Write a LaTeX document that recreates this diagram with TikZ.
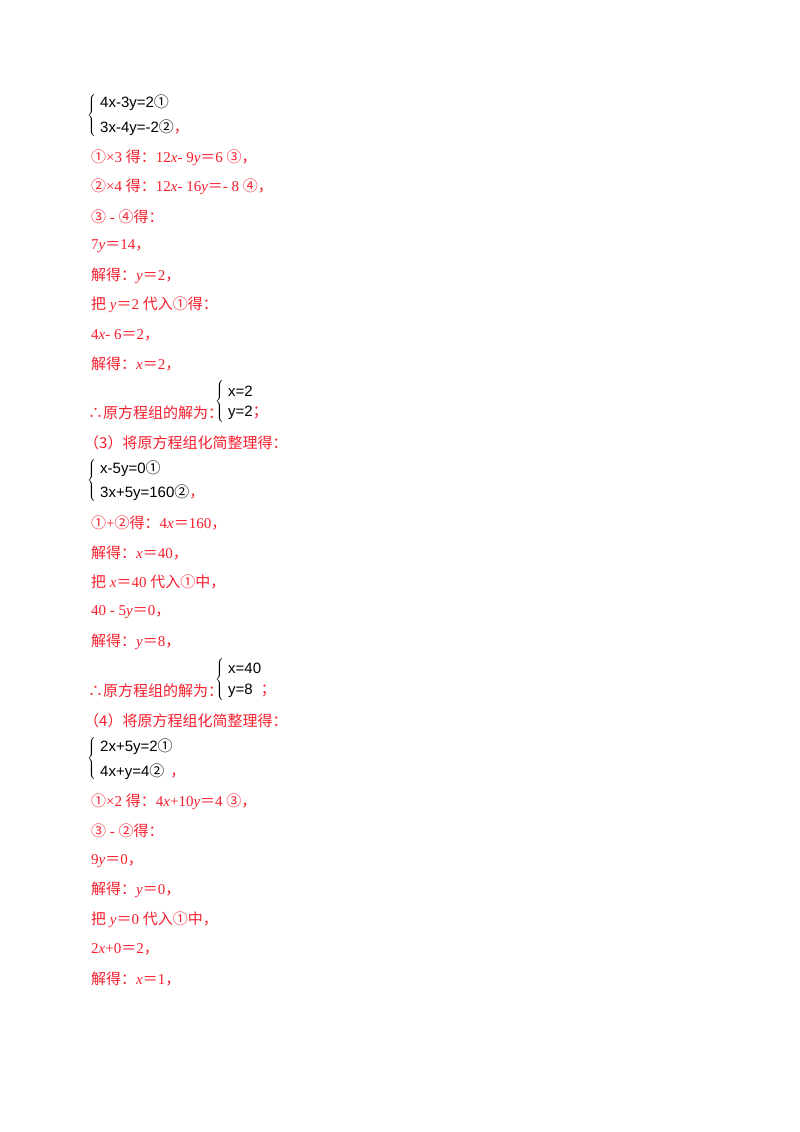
\documentclass[tikz,border=0pt]{standalone}
\usepackage{fontspec}
\setmainfont{Liberation Serif}
\newfontfamily\cjk{Noto Sans CJK SC}
\newfontfamily\eqf{Liberation Sans}
\definecolor{ans}{RGB}{245,30,45}
\newcommand{\zh}[1]{{\cjk #1}}
\newcommand{\cm}{\zh{，}}
\newcommand{\eqs}{\zh{＝}}
\newcommand{\xx}{\textit{x}}
\newcommand{\yy}{\textit{y}}
\newcommand{\brc}{$\left\{\vrule height 19pt depth 19pt width 0pt\right.$}
\begin{document}
\begin{tikzpicture}[x=1pt,y=-1pt,
  t/.style={anchor=west,inner sep=0pt,text=ans,font=\fontsize{15}{16}\selectfont},
  eq/.style={anchor=west,inner sep=0pt,text=black,font=\eqf\fontsize{15}{16}\selectfont},
  br/.style={anchor=west,inner sep=0pt,text=black}]
\useasboundingbox (0,0) rectangle (800,1132);
\node[br] (b1) at (87,116) {\brc};
\node[eq] (s1a) at (100,103) {4x-3y=2\zh{①}};
\node[eq] (s1b) at (100,128) {3x-4y=-2\zh{②}\textcolor{ans}{\cm}};
\node[t] (l1) at (91,158) {\zh{①}×3 \zh{得：}12\xx - 9\yy\eqs6 \zh{③}\cm};
\node[t] (l2) at (91,187) {\zh{②}×4 \zh{得：}12\xx - 16\yy\eqs - 8 \zh{④}\cm};
\node[t] (l3) at (91,217) {\zh{③} - \zh{④得：}};
\node[t] (l4) at (91,246) {7\yy\eqs14\cm};
\node[t] (l5) at (91,276) {\zh{解得：}\yy\eqs2\cm};
\node[t] (l6) at (91,305) {\zh{把} \yy\eqs2 \zh{代入①得：}};
\node[t] (l7) at (91,335) {4\xx - 6\eqs2\cm};
\node[t] (l8) at (91,364) {\zh{解得：}\xx\eqs2\cm};
\node[t] (l9) at (88,413) {\zh{∴原方程组的解为：}};
\node[br] (b2) at (215,402) {\brc};
\node[eq] (s2a) at (228,391) {x=2};
\node[eq] (s2b) at (228,413) {y=2\textcolor{ans}{\zh{；}}};
\node[t] (l10) at (84,443) {\zh{（3）将原方程组化简整理得：}};
\node[br] (b3) at (87,481) {\brc};
\node[eq] (s3a) at (100,469) {x-5y=0\zh{①}};
\node[eq] (s3b) at (100,493) {3x+5y=160\zh{②}\textcolor{ans}{\cm}};
\node[t] (l11) at (91,523) {\zh{①}+\zh{②得：}4\xx\eqs160\cm};
\node[t] (l12) at (91,553) {\zh{解得：}\xx\eqs40\cm};
\node[t] (l13) at (91,582) {\zh{把} \xx\eqs40 \zh{代入①中，}};
\node[t] (l14) at (91,612) {40 - 5\yy\eqs0\cm};
\node[t] (l15) at (91,642) {\zh{解得：}\yy\eqs8\cm};
\node[t] (l16) at (88,691) {\zh{∴原方程组的解为：}};
\node[br] (b4) at (215,680) {\brc};
\node[eq] (s4a) at (228,668) {x=40};
\node[eq] (s4b) at (228,691) {y=8\hspace{8pt}\textcolor{ans}{\zh{；}}};
\node[t] (l17) at (84,721) {\zh{（4）将原方程组化简整理得：}};
\node[br] (b5) at (87,759) {\brc};
\node[eq] (s5a) at (100,747) {2x+5y=2\zh{①}};
\node[eq] (s5b) at (100,772) {4x+y=4\zh{②}\hspace{6pt}\textcolor{ans}{\cm}};
\node[t] (l18) at (91,802) {\zh{①}×2 \zh{得：}4\xx+10\yy\eqs4 \zh{③}\cm};
\node[t] (l19) at (91,831) {\zh{③} - \zh{②得：}};
\node[t] (l20) at (91,861) {9\yy\eqs0\cm};
\node[t] (l21) at (91,890) {\zh{解得：}\yy\eqs0\cm};
\node[t] (l22) at (91,920) {\zh{把} \yy\eqs0 \zh{代入①中，}};
\node[t] (l23) at (91,949) {2\xx+0\eqs2\cm};
\node[t] (l24) at (91,979) {\zh{解得：}\xx\eqs1\cm};
\end{tikzpicture}
\end{document}
